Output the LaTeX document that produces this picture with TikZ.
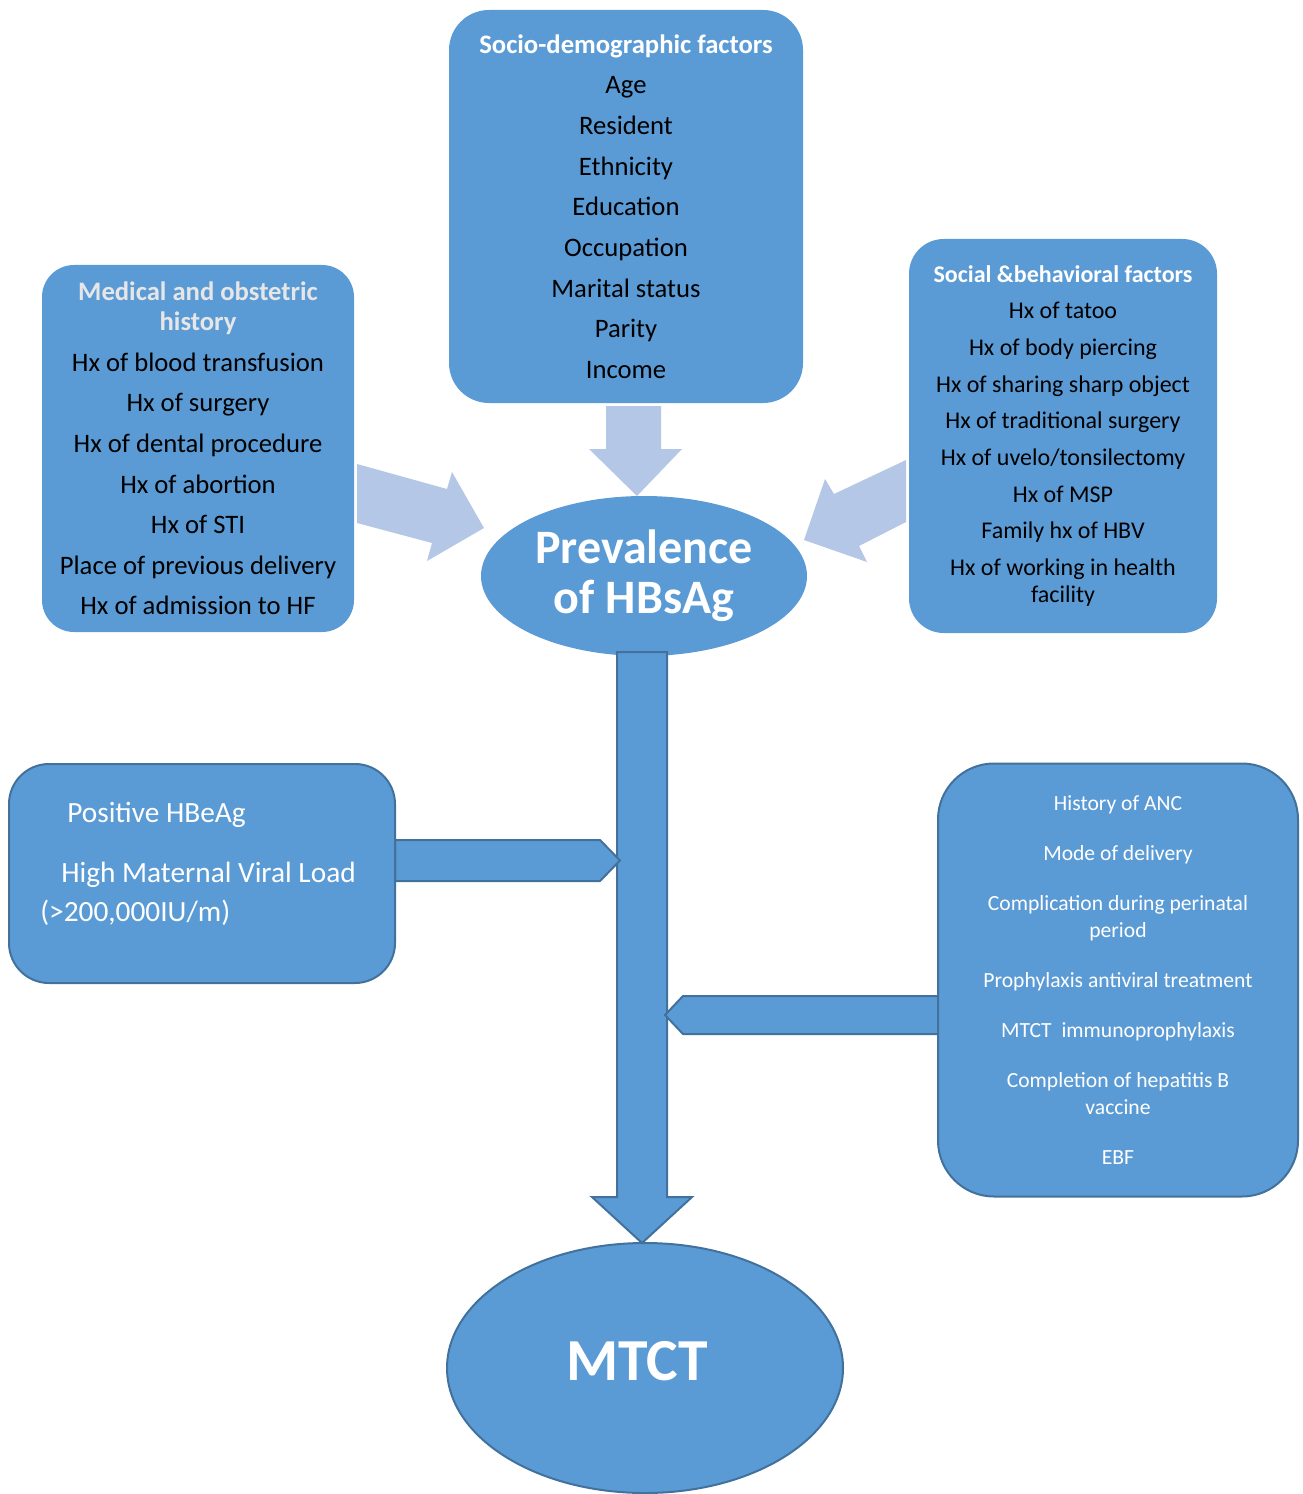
\documentclass[tikz,border=0pt]{standalone}
\usepackage{fontspec}
\setmainfont{Carlito}
\usetikzlibrary{shapes.geometric}
\definecolor{mainblue}{HTML}{5B9BD5}
\definecolor{edgeblue}{HTML}{41719C}
\definecolor{lightblue}{HTML}{B4C7E7}
\definecolor{headgrey}{HTML}{E7E6E6}
\begin{document}
\begin{tikzpicture}[x=0.75pt,y=-0.75pt,
  box/.style={fill=mainblue, rounded corners=#1, inner sep=0pt, align=center},
  box/.default=30pt,
  outlined/.style={draw=edgeblue, line width=1.5pt},
  blockarrow/.style={fill=mainblue, draw=edgeblue, line width=1.5pt, line join=miter},
  softarrow/.style={fill=lightblue},
  whitetxt/.style={text=white, inner sep=0pt}
]
\useasboundingbox (0,0) rectangle (1302,1494);

% light arrows towards the prevalence ellipse
\fill[softarrow] (606,406) -- (661,406) -- (661,449) -- (682,449) -- (637,496) -- (589,449) -- (606,449) -- cycle;
\fill[softarrow] (357,464) -- (447,489) -- (452,472) -- (484,528) -- (427,561) -- (432,543) -- (357,523) -- cycle;
\fill[softarrow] (906,460) -- (834,494) -- (825,479) -- (804,540) -- (867,562) -- (859,546) -- (906,522) -- cycle;

% top boxes
\node[box=30pt, minimum width=265.5pt, minimum height=294.75pt,
      font=\fontsize{20}{30.5}\selectfont] (socio) at (626,206.5)
  {\textcolor{white}{\bfseries Socio-demographic factors}\\Age\\Resident\\Ethnicity\\Education\\Occupation\\Marital status\\Parity\\Income};

\node[box=24pt, minimum width=234pt, minimum height=275.25pt,
      font=\fontsize{20}{22.5}\selectfont] (medical) at (198,448.5)
  {\textcolor{headgrey}{\bfseries Medical and obstetric}\\\textcolor{headgrey}{\bfseries history}\\[7.9pt]
   Hx of blood transfusion\\[7.9pt]Hx of surgery\\[7.9pt]Hx of dental procedure\\[7.9pt]Hx of abortion\\[7.9pt]
   Hx of STI\\[7.9pt]Place of previous delivery\\[7.9pt]Hx of admission to HF};

\node[box=26pt, minimum width=231pt, minimum height=295.5pt,
      font=\fontsize{18}{20.25}\selectfont] (social) at (1063,436)
  {\textcolor{white}{\bfseries Social \&behavioral factors}\\[7.25pt]Hx of tatoo\\[7.25pt]Hx of body piercing\\[7.25pt]
   Hx of sharing sharp object\\[7.25pt]Hx of traditional surgery\\[7.25pt]Hx of uvelo/tonsilectomy\\[7.25pt]
   Hx of MSP\\[7.25pt]Family hx of HBV\\[7.25pt]Hx of working in health\\facility};

% prevalence ellipse
\node[ellipse, fill=mainblue, inner sep=0pt, minimum width=244.5pt, minimum height=120pt,
      text=white, align=center, font=\fontsize{36}{37.5}\selectfont\bfseries] (prev) at (644,576)
  {Prevalence\\of HBsAg};

% main vertical arrow
\filldraw[blockarrow] (617,652) -- (667,652) -- (667,1197) -- (692,1197) -- (642,1243) -- (592,1197) -- (617,1197) -- cycle;

% side pentagon arrows
\filldraw[blockarrow] (395,840) -- (600,840) -- (620,860.5) -- (600,881) -- (395,881) -- cycle;
\filldraw[blockarrow] (938,996) -- (683,996) -- (665,1015) -- (683,1034) -- (938,1034) -- cycle;

% bottom boxes
\node[box=30pt, outlined, minimum width=289.5pt, minimum height=164.25pt] (maternal) at (202,873.5) {};
\node[whitetxt, anchor=base west, font=\fontsize{22}{26}\selectfont] (mt1) at (67,822) {Positive HBeAg};
\node[whitetxt, anchor=base west, font=\fontsize{22}{26}\selectfont] (mt2) at (61,882) {High Maternal Viral Load};
\node[whitetxt, anchor=base west, font=\fontsize{22}{26}\selectfont] (mt3) at (40,921) {(>200,000IU/m)};

\node[box=42pt, outlined, minimum width=270pt, minimum height=324.75pt, text=white,
      font=\fontsize{16.2}{20.25}\selectfont] (perinatal) at (1118,980)
  {History of ANC\\[17.25pt]Mode of delivery\\[17.25pt]Complication during perinatal\\period\\[17.25pt]
   Prophylaxis antiviral treatment\\[17.25pt]MTCT\ \ immunoprophylaxis\\[17.25pt]Completion of hepatitis B\\vaccine\\[17.25pt]EBF};

% MTCT ellipse
\node[ellipse, fill=mainblue, outlined, inner sep=0pt, minimum width=297pt, minimum height=187.5pt,
      text=white, font=\fontsize{44.7}{54}\selectfont\bfseries] (mtct) at (645,1368)
  {\raisebox{10pt}{MTCT}\hspace*{12pt}};
\end{tikzpicture}
\end{document}
